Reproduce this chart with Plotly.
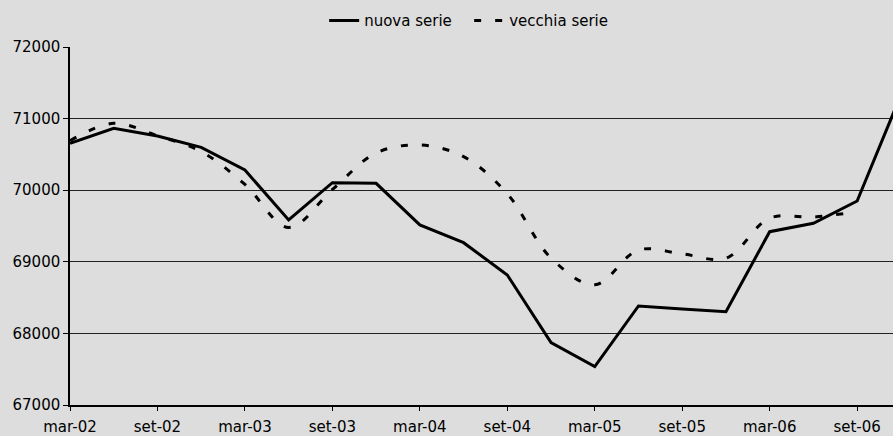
import plotly.graph_objects as go

categories = ["mar-02", "giu-02", "set-02", "dic-02", "mar-03", "giu-03", "set-03", "dic-03",
              "mar-04", "giu-04", "set-04", "dic-04", "mar-05", "giu-05", "set-05", "dic-05",
              "mar-06", "giu-06", "set-06", "dic-06"]
nuova_serie = [70655, 70864, 70757, 70599, 70282, 69584, 70105, 70096, 69515, 69267,
               68816, 67871, 67536, 68383, 68340, 68303, 69421, 69538, 69849, 71330]
vecchia_serie = [70692, 70934, 70760, 70540, 70080, 69480, 70010, 70520, 70631, 70468,
                 69950, 69053, 68680, 69165, 69110, 69050, 69610, 69625, 69700]
tick_labels = categories[::2]
y_ticks = [67000, 68000, 69000, 70000, 71000, 72000]

FONT = "DejaVu Sans"
BG = "#DDDDDD"

fig = go.Figure()
fig.add_trace(go.Scatter(
    x=categories, y=nuova_serie, mode="lines", name="nuova serie",
    line=dict(color="black", width=3)))
fig.add_trace(go.Scatter(
    x=categories[:len(vecchia_serie)], y=vecchia_serie, mode="lines", name="vecchia serie",
    line=dict(color="black", width=3, dash="7px,14px", shape="spline", smoothing=1.0)))

fig.update_layout(
    width=893, height=436,
    margin=dict(l=70, r=0, t=47, b=29),
    paper_bgcolor=BG, plot_bgcolor=BG,
    font=dict(family=FONT, size=15, color="black"),
    showlegend=True,
    legend=dict(orientation="h", x=0.485, xanchor="center", y=1.073, yanchor="middle",
                bgcolor="rgba(0,0,0,0)", font=dict(family=FONT, size=15),
                itemwidth=30, tracegroupgap=0, entrywidth=100, entrywidthmode="pixels"),
)
fig.update_xaxes(
    type="category", range=[0, 18.82],
    tickmode="array", tickvals=tick_labels, ticktext=tick_labels,
    showgrid=False, showline=True, linecolor="black", linewidth=1.5,
    ticks="outside", ticklen=4, tickcolor="black", tickwidth=1,
    ticklabelstandoff=3,
    tickfont=dict(family=FONT, size=15), zeroline=False)
fig.update_yaxes(
    range=[67000, 72000], tickmode="array", tickvals=y_ticks,
    ticktext=[str(v) for v in y_ticks],
    showgrid=True, gridcolor="#222222", gridwidth=1,
    showline=True, linecolor="black", linewidth=1.5,
    ticks="outside", ticklen=5, tickcolor="black", tickwidth=1,
    tickfont=dict(family=FONT, size=15), zeroline=False)

fig.write_html(
    "out.html",
    config={"displayModeBar": False},
    post_script="document.body.style.margin='0';document.body.style.padding='0';"
                "document.body.style.background='#DDDDDD';")
